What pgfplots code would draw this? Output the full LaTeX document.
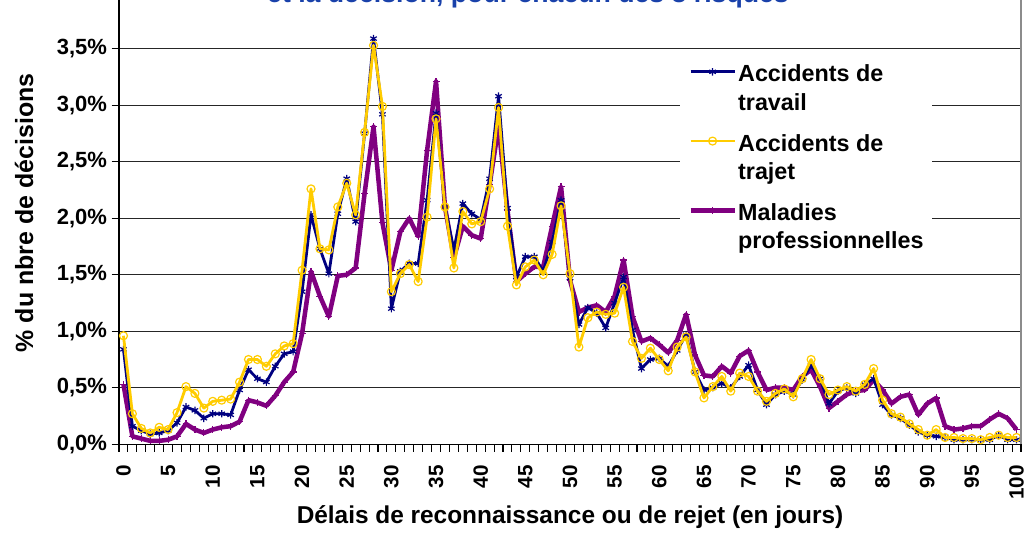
\documentclass[border=0pt]{standalone}
\usepackage{pgfplots}
\pgfplotsset{compat=1.18}
\usepackage{pgfplotstable}
\usepackage{fontspec}
\setmainfont{Liberation Sans}

\definecolor{travail}{RGB}{0,0,128}
\definecolor{trajet}{RGB}{255,204,0}
\definecolor{maladie}{RGB}{128,0,128}
\definecolor{titre}{RGB}{25,65,170}

% delay in days, share of decisions (%) for each risk
\pgfplotstableread{
d trav traj mal
0 0.84 0.96 0.53
1 0.16 0.27 0.07
2 0.12 0.14 0.05
3 0.09 0.10 0.03
4 0.10 0.15 0.03
5 0.12 0.13 0.04
6 0.19 0.28 0.07
7 0.33 0.51 0.18
8 0.30 0.45 0.13
9 0.23 0.32 0.10
10 0.27 0.38 0.13
11 0.27 0.39 0.15
12 0.26 0.40 0.16
13 0.48 0.55 0.20
14 0.66 0.75 0.39
15 0.58 0.75 0.37
16 0.55 0.69 0.34
17 0.69 0.80 0.43
18 0.80 0.87 0.55
19 0.82 0.89 0.64
20 1.35 1.54 0.98
21 2.03 2.26 1.53
22 1.73 1.73 1.31
23 1.51 1.72 1.13
24 2.04 2.10 1.49
25 2.35 2.31 1.50
26 1.97 2.03 1.56
27 2.75 2.76 2.22
28 3.59 3.53 2.81
29 2.92 2.99 1.96
30 1.20 1.35 1.54
31 1.53 1.51 1.88
32 1.60 1.59 2.00
33 1.60 1.44 1.84
34 2.16 2.01 2.60
35 2.93 2.88 3.21
36 2.10 2.10 2.10
37 1.72 1.56 1.65
38 2.13 2.06 1.93
39 2.04 1.95 1.85
40 1.99 1.97 1.82
41 2.35 2.26 2.30
42 3.08 2.98 2.81
43 2.09 1.93 2.07
44 1.48 1.41 1.44
45 1.66 1.57 1.51
46 1.66 1.63 1.57
47 1.53 1.50 1.57
48 1.79 1.68 1.93
49 2.16 2.11 2.28
50 1.47 1.51 1.45
51 1.06 0.86 1.17
52 1.21 1.12 1.21
53 1.16 1.17 1.23
54 1.03 1.15 1.17
55 1.25 1.16 1.31
56 1.48 1.39 1.63
57 1.01 0.91 1.13
58 0.67 0.76 0.91
59 0.75 0.85 0.94
60 0.76 0.75 0.88
61 0.69 0.65 0.81
62 0.83 0.86 0.92
63 0.97 0.95 1.15
64 0.64 0.64 0.79
65 0.48 0.41 0.61
66 0.50 0.51 0.60
67 0.54 0.60 0.69
68 0.50 0.47 0.63
69 0.60 0.63 0.78
70 0.70 0.60 0.83
71 0.48 0.47 0.64
72 0.35 0.38 0.48
73 0.44 0.45 0.50
74 0.47 0.49 0.50
75 0.44 0.42 0.48
76 0.57 0.58 0.60
77 0.70 0.75 0.66
78 0.58 0.58 0.51
79 0.36 0.44 0.32
80 0.47 0.48 0.38
81 0.50 0.51 0.44
82 0.45 0.47 0.47
83 0.53 0.53 0.48
84 0.58 0.67 0.57
85 0.35 0.39 0.48
86 0.26 0.27 0.36
87 0.23 0.24 0.42
88 0.17 0.18 0.44
89 0.11 0.13 0.26
90 0.08 0.08 0.36
91 0.07 0.13 0.41
92 0.06 0.06 0.16
93 0.04 0.06 0.13
94 0.04 0.05 0.14
95 0.04 0.05 0.16
96 0.04 0.04 0.16
97 0.04 0.06 0.22
98 0.08 0.08 0.27
99 0.04 0.06 0.23
100 0.04 0.06 0.13
}\delais

\pgfplotsset{
  trav/.style={travail, line width=2.1pt, line join=round, mark=asterisk, mark size=2.8pt,
    mark options={line width=0.9pt, solid}},
  traj/.style={trajet, line width=2.1pt, line join=round, mark=o, mark size=3pt,
    mark options={line width=0.9pt, solid, fill=none}},
  mal/.style={maladie, line width=3.4pt, line join=round, mark=+, mark size=2.6pt,
    mark options={line width=0.9pt, solid}},
}

\begin{document}
\begin{tikzpicture}[x=1pt,y=1pt]
\begin{axis}[
  at={(0pt,0pt)}, anchor=south west,
  scale only axis, width=676.5pt, height=339pt,
  xmin=-0.5, xmax=100.5, ymin=0, ymax=4,
  clip mode=individual,
  axis x line*=bottom, axis y line*=left,
  axis line style={line width=1.1pt, black},
  tick align=outside, major tick length=5.5pt,
  tick style={black, line width=0.8pt},
  xtick={-0.5,0.5,...,100.5}, xticklabels={},
  ytick={0,0.5,...,3.5},
  yticklabels={{0,0\%},{0,5\%},{1,0\%},{1,5\%},{2,0\%},{2,5\%},{3,0\%},{3,5\%}},
  yticklabel style={font=\fontsize{16.5}{19}\selectfont\bfseries},
  ymajorgrids, grid style={black!85, line width=1.1pt},
  xlabel={Délais de reconnaissance ou de rejet (en jours)},
  xlabel style={at={(axis description cs:0.5,-0.176)}, anchor=base, font=\fontsize{18.3}{22}\selectfont\bfseries},
  ylabel={\% du nbre de décisions},
  ylabel style={at={(axis description cs:-0.1053,0.512)}, anchor=center, font=\fontsize{18.7}{22}\selectfont\bfseries},
  legend style={at={(axis description cs:0.622,0.861)}, anchor=north west,
    draw=none, fill=white, inner xsep=6pt, inner ysep=5pt,
    row sep=35.6pt, column sep=1pt,
    font=\fontsize{17.5}{21.2}\selectfont\bfseries,
    cells={anchor=base west}, nodes={inner sep=0pt}},
  legend image code/.code={
    \draw[mark repeat=2, mark phase=2, #1] plot coordinates {(0pt,7.5pt) (16.5pt,7.5pt) (33pt,7.5pt)};
  },
]
  % legend first, in the order of the original
  \addlegendimage{trav}
  \addlegendentry{\begin{tabular}[t]{@{}l@{}}Accidents de\\travail\end{tabular}}
  \addlegendimage{traj}
  \addlegendentry{\begin{tabular}[t]{@{}l@{}}Accidents de\\trajet\end{tabular}}
  \addlegendimage{mal}
  \addlegendentry{\begin{tabular}[t]{@{}l@{}}Maladies\\professionnelles\end{tabular}}

  \addplot[mal, forget plot] table[x=d, y=mal] {\delais};
  \addplot[trav, forget plot] table[x=d, y=trav] {\delais};
  \addplot[traj, forget plot] table[x=d, y=traj] {\delais};

  % grey right edge of the plot area
  \draw[black!45, line width=1pt] (rel axis cs:1,0) -- (rel axis cs:1,1);

  % day labels every 5 days, turned upright
  \pgfplotsinvokeforeach{0,5,...,100}{
    \node[shift={(0pt,-15.5pt)}, rotate=90, anchor=east, inner sep=0pt,
      font=\fontsize{15.5}{18}\selectfont\bfseries] at (axis cs:#1,0) {#1};
  }
\end{axis}

% title, cut by the top of the picture
\node[anchor=base, text=titre, font=\fontsize{20}{24}\selectfont\bfseries]
  at (306.75pt,331pt) {et la décision, pour chacun des 3 risques};

\pgfresetboundingbox
\useasboundingbox (-89.25pt,-72.5pt) rectangle (685.5pt,333.2pt);
\end{tikzpicture}
\end{document}
